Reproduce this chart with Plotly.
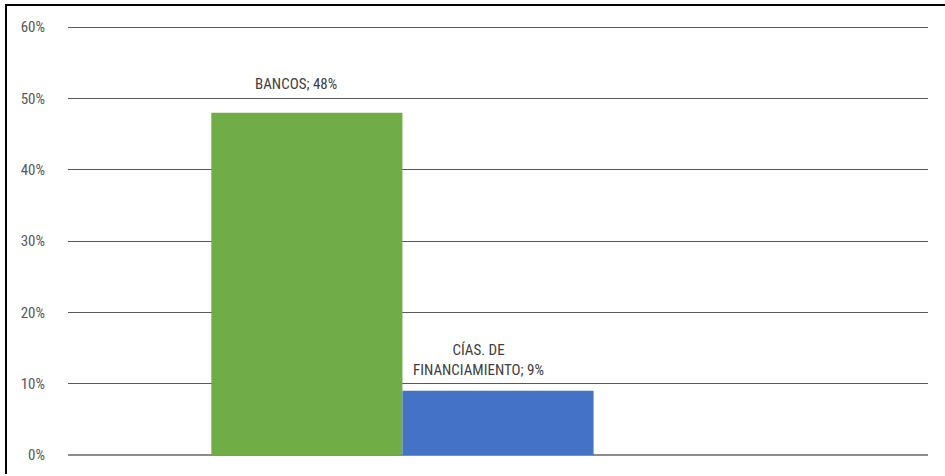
import plotly.graph_objects as go

category = ["Sistema"]
series_names = ["BANCOS", "CÍAS. DE FINANCIAMIENTO", "OTROS"]
series_values = [0.48, 0.09, None]
series_colors = ["#70AD47", "#4472C4", "#A5A5A5"]
label_texts = ["BANCOS; 48%", "CÍAS. DE<br>FINANCIAMIENTO; 9%", ""]
y_ticks = [0, 0.1, 0.2, 0.3, 0.4, 0.5, 0.6]

FONT = "Roboto Condensed, Liberation Sans Narrow, sans-serif"
W, H = 945, 476
L, R, T, B = 68, 17, 26, 19
pw, ph = W - L - R, H - T - B

fig = go.Figure()
for name, val, col in zip(series_names, series_values, series_colors):
    fig.add_trace(go.Bar(x=category, y=[val], name=name, marker_color=col,
                         marker_line_width=0, hoverinfo="skip"))

# data labels
shifts = [(-11, 18), (-20, 10)]
bar_px = pw * (1 - 0.3333) / 3
for i, (val, txt) in enumerate(zip(series_values, label_texts)):
    if val is None:
        continue
    dx, dy = shifts[i]
    fig.add_annotation(x=category[0], y=val, text=txt, showarrow=False,
                       xshift=(i - 1) * bar_px + dx, yshift=dy, yanchor="bottom",
                       font=dict(family=FONT, size=15, color="#404040"), align="center")

def px_x(p):
    return (p - L) / pw

def px_y(p):
    return (H - B - p) / ph

# outer frame (only left and top edges fall inside the picture)
fig.add_shape(type="line", xref="paper", yref="paper",
              x0=px_x(6), x1=px_x(6), y0=px_y(476), y1=px_y(4),
              line=dict(color="#000000", width=2), layer="above")
fig.add_shape(type="line", xref="paper", yref="paper",
              x0=px_x(5), x1=px_x(945), y0=px_y(5), y1=px_y(5),
              line=dict(color="#000000", width=2), layer="above")

fig.update_layout(
    width=W, height=H,
    margin=dict(l=L, r=R, t=T, b=B),
    barmode="group", bargap=0.3333, bargroupgap=0,
    showlegend=False,
    plot_bgcolor="white", paper_bgcolor="white",
    font=dict(family=FONT, size=15, color="#595959"),
)
fig.update_xaxes(showticklabels=False, showgrid=False, zeroline=False, showline=False)
fig.update_yaxes(range=[0, 0.6015], tickvals=y_ticks, tickformat=".0%",
                 showgrid=True, gridcolor="#595959", gridwidth=1,
                 zeroline=True, zerolinecolor="#8c8c8c", zerolinewidth=2,
                 showline=False, ticklabelstandoff=22,
                 tickfont=dict(family=FONT, size=15, color="#595959"))

fig.write_html("out.html", config={"displayModeBar": False},
               post_script="document.body.style.margin='0';"
                           "document.body.style.overflow='hidden';"
                           "document.documentElement.style.overflow='hidden';")
